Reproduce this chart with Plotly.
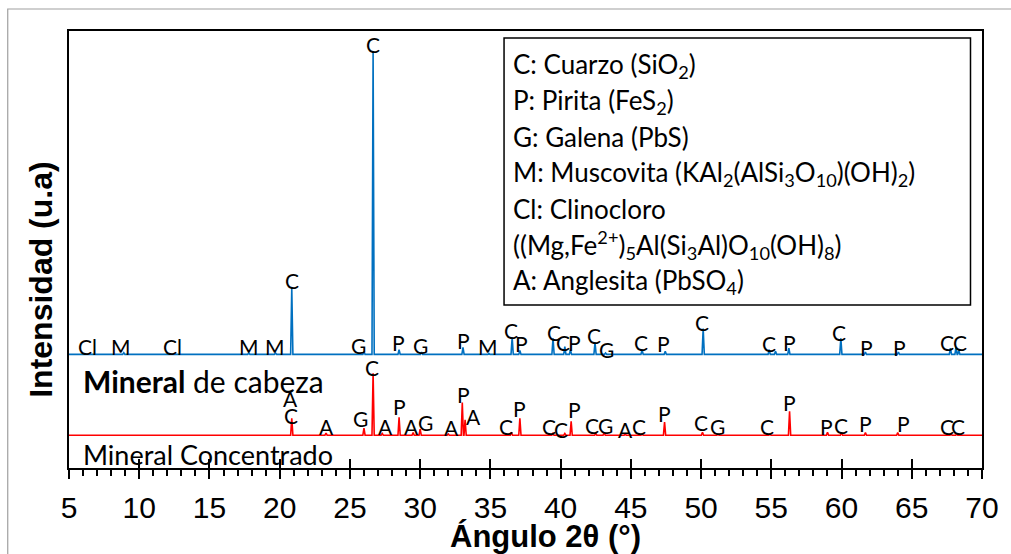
import plotly.graph_objects as go

# ---------------- data ----------------
# Mineral de cabeza (blue): peak positions (2θ, °) and heights above baseline (a.u.)
cab_base = 26.0
cab_pos = [8.9, 17.8, 19.7, 20.86, 26.0, 26.65, 28.5, 30.1, 33.05, 34.9, 36.55, 37.1,
           39.46, 40.3, 40.7, 42.45, 43.2, 45.8, 47.45, 50.15, 54.85, 55.3, 56.25,
           59.95, 61.7, 64.05, 67.75, 68.15, 68.35]
cab_h = [0.4, 0.3, 0.3, 15.3, 0.6, 69.3, 1.1, 0.5, 1.6, 0.2, 3.9, 0.9,
         3.7, 1.8, 1.1, 2.7, 0.3, 1.1, 0.7, 5.9, 1.1, 0.7, 1.4,
         3.7, 0.5, 0.5, 1.4, 1.6, 0.9]

# Mineral Concentrado (red)
con_base = 7.5
con_pos = [20.86, 23.3, 26.0, 26.65, 27.3, 28.5, 29.5, 30.0, 32.0, 33.0, 33.2, 36.5,
           37.1, 39.45, 40.3, 40.75, 42.5, 43.1, 44.6, 45.8, 47.4, 50.1, 51.2, 54.9,
           56.3, 59.0, 60.0, 61.7, 64.0, 67.8, 68.2]
con_h = [3.9, 0.5, 1.6, 14.2, 0.4, 4.1, 0.6, 1.4, 0.3, 7.5, 3.5, 0.7,
         3.9, 0.4, 0.4, 3.2, 0.4, 0.6, 0.2, 0.3, 3.0, 0.7, 0.2, 0.2,
         5.5, 0.7, 0.6, 0.6, 0.6, 0.2, 0.2]

# peak identification labels
cab_lbl = ["Cl", "M", "Cl", "M", "M", "C", "G", "C", "P", "G", "P", "M", "C", "P",
           "C", "C", "P", "C", "G", "C", "P", "C", "C", "P", "C", "P", "P", "C", "C"]
cab_lbl_x = [6.3, 8.7, 12.35, 17.8, 19.7, 20.86, 25.6, 26.65, 28.45, 30.0, 33.07, 34.8,
             36.47, 37.2, 39.5, 40.2, 41.0, 42.4, 43.3, 45.7, 47.3, 50.1, 54.8, 56.3,
             59.8, 61.8, 64.1, 67.5, 68.4]
cab_lbl_y = [27.7, 27.7, 27.7, 27.7, 27.7, 43.0, 28.1, 96.8, 28.8, 28.1, 29.1, 27.7,
             31.4, 28.4, 31.1, 28.8, 28.8, 30.4, 27.2, 28.8, 28.6, 33.4, 28.6, 28.8,
             31.1, 27.5, 27.5, 28.8, 28.8]

con_lbl = ["C", "A", "A", "G", "C", "A", "P", "A", "G", "A", "P", "A", "C", "P", "C",
           "C", "P", "C", "G", "A", "C", "P", "C", "G", "C", "P", "P", "C", "P", "P",
           "C", "C"]
con_lbl_x = [20.8, 20.8, 23.3, 25.76, 26.55, 27.5, 28.5, 29.4, 30.4, 32.2, 33.07, 33.8,
             36.1, 37.1, 39.2, 40.0, 41.0, 42.2, 43.2, 44.6, 45.6, 47.4, 50.0, 51.2,
             54.7, 56.3, 58.9, 59.95, 61.7, 64.4, 67.5, 68.3]
con_lbl_y = [12.1, 16.0, 9.4, 11.4, 23.1, 9.4, 14.0, 9.4, 10.3, 9.2, 16.9, 11.7,
             9.6, 13.7, 9.4, 8.9, 13.3, 9.8, 9.8, 8.9, 9.6, 12.4, 10.3, 9.4,
             9.4, 14.9, 9.4, 9.8, 10.1, 10.1, 9.4, 9.4]

legend_lines = [
    "C: Cuarzo (SiO<sub>2</sub>)",
    "P: Pirita (FeS<sub>2</sub>)",
    "G: Galena (PbS)",
    "M: Muscovita (KAl<sub>2</sub>(AlSi<sub>3</sub>O<sub>10</sub>)(OH)<sub>2</sub>)",
    "Cl: Clinocloro",
    "((Mg,Fe<sup>2+</sup>)<sub>5</sub>Al(Si<sub>3</sub>Al)O<sub>10</sub>(OH)<sub>8</sub>)",
    "A: Anglesita (PbSO<sub>4</sub>)",
]

X_MIN, X_MAX = 5, 70
HALF_W = 0.08


def build_line(pos, h, base):
    xs, ys = [X_MIN], [base]
    for p, v in sorted(zip(pos, h)):
        xs += [p - HALF_W, p, p + HALF_W]
        ys += [base, base + v, base]
    xs.append(X_MAX)
    ys.append(base)
    return xs, ys


cx, cy = build_line(cab_pos, cab_h, cab_base)
kx, ky = build_line(con_pos, con_h, con_base)

fig = go.Figure()
fig.add_trace(go.Scatter(x=cx, y=cy, mode="lines", line=dict(color="#0070C0", width=1.6),
                         name="Mineral de cabeza", showlegend=False))
fig.add_trace(go.Scatter(x=kx, y=ky, mode="lines", line=dict(color="#FF0000", width=1.6),
                         name="Mineral Concentrado", showlegend=False))
# helper trace to attach the second (inside-tick) x axis
fig.add_trace(go.Scatter(x=[X_MIN], y=[0], xaxis="x2", mode="markers",
                         marker=dict(opacity=0), showlegend=False, hoverinfo="skip"))

FAM = "Lato, Carlito, Calibri, sans-serif"
LBL_FONT = dict(family=FAM, size=21, color="black")
ann = []
for t, x, y in zip(cab_lbl, cab_lbl_x, cab_lbl_y):
    ann.append(dict(x=x, y=y, xref="x", yref="y", text=t, showarrow=False,
                    font=LBL_FONT, xanchor="center", yanchor="middle"))
for t, x, y in zip(con_lbl, con_lbl_x, con_lbl_y):
    ann.append(dict(x=x, y=y, xref="x", yref="y", text=t, showarrow=False,
                    font=LBL_FONT, xanchor="center", yanchor="middle"))

ann.append(dict(x=5.85, y=19.9, xref="x", yref="y", text="<b>Mineral</b> de cabeza",
                showarrow=False, font=dict(family=FAM, size=30, color="black"),
                xanchor="left", yanchor="middle"))
ann.append(dict(x=5.85, y=3.0, xref="x", yref="y", text="Mineral Concentrado",
                showarrow=False, font=dict(family=FAM, size=27, color="black"),
                xanchor="left", yanchor="middle"))

# legend box text
LEG_FONT = dict(family=FAM, size=26, color="black")
leg_top, leg_step = 0.921, 0.0822
for i, line in enumerate(legend_lines):
    ann.append(dict(x=0.4836, y=leg_top - i * leg_step, xref="paper", yref="paper",
                    text=line, showarrow=False, font=LEG_FONT,
                    xanchor="left", yanchor="middle", align="left"))

ann.append(dict(x=0.522, y=-0.156, xref="paper", yref="paper",
                text="<b>Ángulo 2θ (°)</b>", showarrow=False,
                font=dict(family="Liberation Sans, Arial, sans-serif", size=31, color="black"),
                xanchor="center", yanchor="middle"))
ann.append(dict(x=-0.031, y=0.43, xref="paper", yref="paper",
                text="<b>Intensidad (u.a)</b>", showarrow=False,
                font=dict(family="Liberation Sans, Arial, sans-serif", size=32, color="black"),
                textangle=-90, xanchor="center", yanchor="middle"))

shapes = [
    # legend box
    dict(type="rect", xref="paper", yref="paper", x0=0.4765, x1=0.9874, y0=0.373, y1=0.984,
         line=dict(color="black", width=1.5), fillcolor="rgba(0,0,0,0)"),
    # outer chart border
    dict(type="rect", xref="paper", yref="paper", x0=-0.0671, x1=1.2, y0=-0.5, y1=1.0503,
         line=dict(color="#A0A0A0", width=1.2), fillcolor="rgba(0,0,0,0)", layer="below"),
]

fig.update_layout(
    width=1011, height=554,
    margin=dict(l=69, r=26, t=31, b=86),
    paper_bgcolor="white", plot_bgcolor="white",
    showlegend=False,
    annotations=ann,
    shapes=shapes,
    xaxis=dict(range=[X_MIN, X_MAX], tickmode="linear", tick0=5, dtick=5,
               ticks="outside", ticklen=9, tickwidth=2, tickcolor="black",
               ticklabelstandoff=3,
               minor=dict(ticks="outside", ticklen=6, tickwidth=1.5, tickcolor="black",
                          dtick=1, tick0=5, showgrid=False),
               showline=True, linecolor="black", linewidth=2, mirror=True,
               showgrid=False, zeroline=False,
               tickfont=dict(family="Liberation Sans, Arial, sans-serif", size=30, color="black")),
    xaxis2=dict(range=[X_MIN, X_MAX], overlaying="x", anchor="y", side="bottom",
                tickmode="linear", tick0=5, dtick=5, ticks="inside", ticklen=9,
                tickwidth=2, tickcolor="black", showticklabels=False,
                showline=False, showgrid=False, zeroline=False),
    yaxis=dict(range=[0, 100], showticklabels=False, ticks="", showgrid=False,
               zeroline=False, showline=True, linecolor="black", linewidth=2, mirror=True),
)

fig.write_html("out.html")
